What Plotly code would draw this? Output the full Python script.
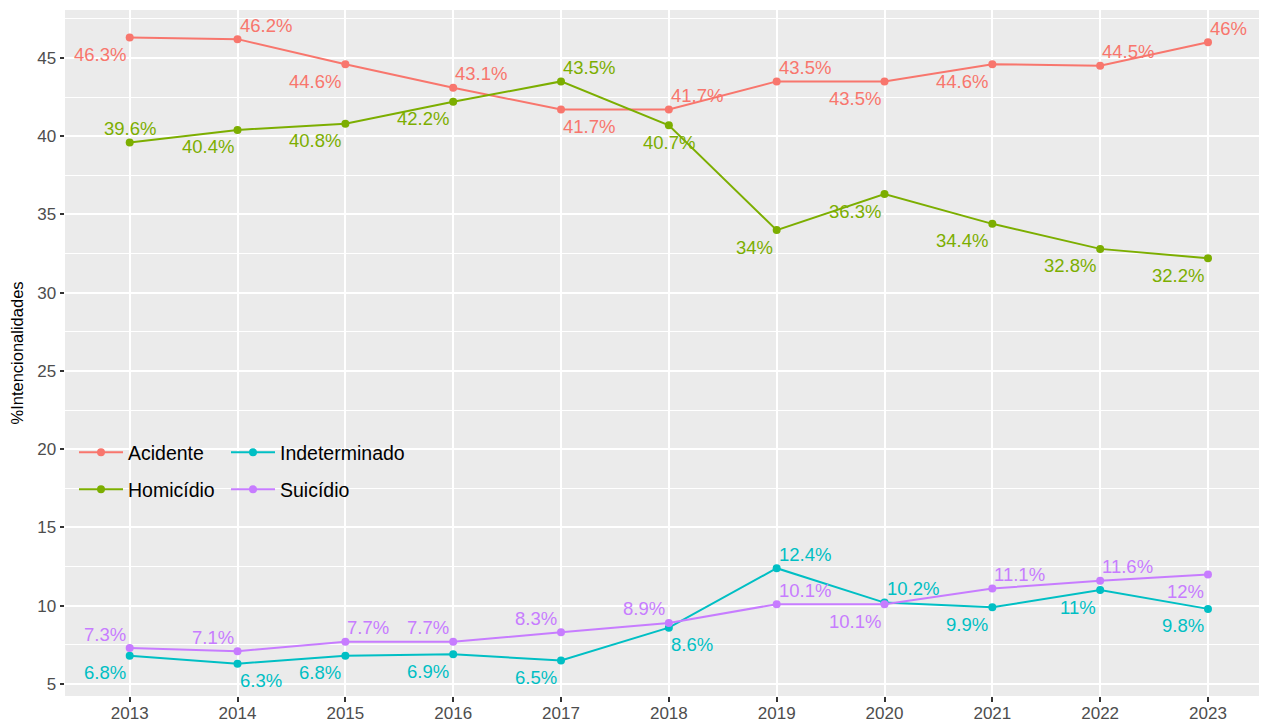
import plotly.graph_objects as go

years = [2013, 2014, 2015, 2016, 2017, 2018, 2019, 2020, 2021, 2022, 2023]
acidente = [46.3, 46.2, 44.6, 43.1, 41.7, 41.7, 43.5, 43.5, 44.6, 44.5, 46.0]
homicidio = [39.6, 40.4, 40.8, 42.2, 43.5, 40.7, 34.0, 36.3, 34.4, 32.8, 32.2]
indeterminado = [6.8, 6.3, 6.8, 6.9, 6.5, 8.6, 12.4, 10.2, 9.9, 11.0, 9.8]
suicidio = [7.3, 7.1, 7.7, 7.7, 8.3, 8.9, 10.1, 10.1, 11.1, 11.6, 12.0]
y_ticks = [5, 10, 15, 20, 25, 30, 35, 40, 45]

series_names = ["Acidente", "Homicídio", "Indeterminado", "Suicídio"]
series_values = [acidente, homicidio, indeterminado, suicidio]
colors = ["#F8766D", "#7CAE00", "#00BFC4", "#C77CFF"]

# label placement codes (t=above, b=below, l=left, r=right, c=centered)
placements = [
    ["bl", "tr", "bl", "tr", "br", "tr", "tr", "bl", "bl", "tr", "tr"],
    ["tc", "bl", "bl", "bl", "tr", "bc", "bl", "bl", "bl", "bl", "bl"],
    ["bl", "br", "bl", "bl", "bl", "br", "tr", "tr", "bl", "bl", "bl"],
    ["tl", "tl", "tr", "tl", "tl", "tl", "tr", "bl", "tr", "tr", "bl"],
]

FONT = "Liberation Sans, Arial, Helvetica, sans-serif"

# page body has an 8px margin: work in figure pixels
OFF = 8
FIG_W, FIG_H = 1267 - OFF, 722 - OFF
L, R, T, B = 65 - OFF, 1267 - OFF, 10 - OFF, 696.5 - OFF
W, H = R - L, B - T

fig = go.Figure()
legends = ["legend", "legend3", "legend2", "legend4"]
for name, vals, col, lg in zip(series_names, series_values, colors, legends):
    fig.add_trace(go.Scatter(
        x=years, y=vals, name=name, mode="lines+markers",
        line=dict(color=col, width=2), marker=dict(color=col, size=8),
        legend=lg, hoverinfo="skip", showlegend=True,
    ))

annotations = []
for vals, col, pl in zip(series_values, colors, placements):
    for yr, v, code in zip(years, vals, pl):
        vert, hor = code[0], code[1]
        yshift = 14 if vert == "t" else -17
        if hor == "r":
            xanchor, xshift = "left", 0
        elif hor == "l":
            xanchor, xshift = "right", -2
        else:
            xanchor, xshift = "center", 0
        annotations.append(dict(
            x=yr, y=v, xref="x", yref="y", text=f"{v:g}%", showarrow=False,
            xanchor=xanchor, yanchor="middle", xshift=xshift, yshift=yshift,
            font=dict(family=FONT, size=18.5, color=col),
        ))

px_per_year = (1208 - 130) / 10.0
x_left = 2013 - 0.6
x_right = 2013 + (1267 - 130) / px_per_year


def px_x(p):
    # p in window pixels
    return (p - OFF - L) / W


def px_y(p):
    return (B - (p - OFF)) / H


leg_common = dict(
    bgcolor="rgba(0,0,0,0)", borderwidth=0, xref="paper", yref="paper",
    xanchor="left", yanchor="middle", itemwidth=44,
    font=dict(family=FONT, size=19.5, color="#000000"),
)

fig.update_layout(
    width=FIG_W, height=FIG_H,
    showlegend=True,
    margin=dict(l=L, r=FIG_W - R, t=T, b=FIG_H - B, autoexpand=False),
    paper_bgcolor="white", plot_bgcolor="#EBEBEB",
    font=dict(family=FONT),
    annotations=annotations,
    legend=dict(x=px_x(74), y=px_y(453), **leg_common),
    legend3=dict(x=px_x(74), y=px_y(490), **leg_common),
    legend2=dict(x=px_x(226), y=px_y(453), **leg_common),
    legend4=dict(x=px_x(226), y=px_y(490), **leg_common),
    xaxis=dict(
        range=[x_left, x_right], tickvals=years, ticktext=[str(y) for y in years],
        showgrid=True, gridcolor="white", gridwidth=1.6, zeroline=False,
        ticks="outside", ticklen=4.5, tickwidth=1.6, tickcolor="#333333",
        tickfont=dict(family=FONT, size=17, color="#4D4D4D"),
        ticklabelstandoff=-3,
        showline=False, automargin=False,
    ),
    yaxis=dict(
        range=[4.234, 48.062], tickvals=y_ticks,
        showgrid=True, gridcolor="white", gridwidth=1.6, zeroline=False,
        ticks="outside", ticklen=4.5, tickwidth=1.6, tickcolor="#333333",
        tickfont=dict(family=FONT, size=17, color="#4D4D4D"),
        minor=dict(tick0=2.5, dtick=5, showgrid=True, gridcolor="white", gridwidth=0.8, ticks=""),
        title=dict(text="%Intencionalidades", font=dict(family=FONT, size=16.5, color="#000000"), standoff=9),
        showline=False, automargin=False,
    ),
)

fig.write_html("out.html")
